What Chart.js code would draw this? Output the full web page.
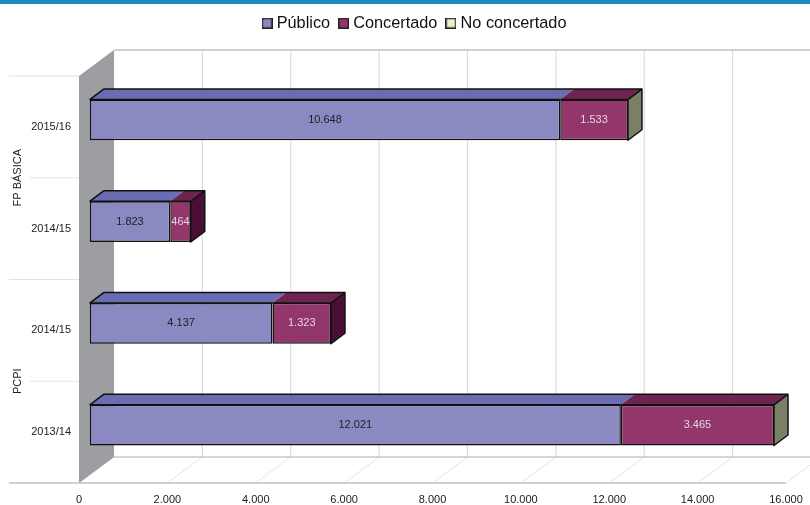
<!DOCTYPE html>
<html lang="es">
<head>
<meta charset="utf-8">
<title>Alumnado FP Básica y PCPI</title>
<script src="https://cdn.jsdelivr.net/npm/chart.js@4"></script>
<style>
html,body{margin:0;padding:0;background:#fff;overflow:hidden}
#band{position:absolute;left:0;top:0;width:810px;height:4px;background:#1e8dbd;z-index:2}
canvas{position:absolute;left:0;top:0}
</style>
</head>
<body>
<div id="band"></div>
<canvas id="c" width="810" height="505"></canvas>
<script>
const categories = ['2015/16', '2014/15', '2014/15', '2013/14'];
const groupNames = ['FP BÁSICA', 'PCPI'];
const groupFirst = [0, 2];
const groupLast = [1, 3];
const publico = [10648, 1823, 4137, 12021];
const concertado = [1533, 464, 1323, 3465];
const noConcertado = [0, null, null, 0];
const xTicks = [0, 2000, 4000, 6000, 8000, 10000, 12000, 14000, 16000];

const FONT = '"Liberation Sans", Arial, sans-serif';
const fmt = v => String(v).replace(/\B(?=(\d{3})+$)/g, '.');

// 3D projection of the reference chart (pixels)
const WALL = {dx: 35, dy: -26};
const BAR_SHIFT = {dx: 10.7, dy: -7};
const BAR_DEPTH = {dx: 14, dy: -10.5};
const TOP_Y = 50;

const shade = {
  'Público': {top: '#6a6db2', side: '#4f5190', label: '#222222'},
  'Concertado': {top: '#6f2350', side: '#4a0f35', label: '#e4d6e0'},
  'No concertado': {top: '#a3a58a', side: '#7a8068', label: '#222222'}
};

function swatch(color) {
  const s = document.createElement('canvas');
  s.width = 11; s.height = 11;
  const g = s.getContext('2d');
  g.fillStyle = color; g.fillRect(0, 0, 11, 11);
  g.strokeStyle = '#222'; g.lineWidth = 1.4; g.strokeRect(.7, .7, 9.6, 9.6);
  return s;
}

function poly(ctx, pts, fill, stroke, lw) {
  ctx.beginPath();
  pts.forEach((p, i) => i ? ctx.lineTo(p[0], p[1]) : ctx.moveTo(p[0], p[1]));
  ctx.closePath();
  if (fill) { ctx.fillStyle = fill; ctx.fill(); }
  if (stroke) { ctx.strokeStyle = stroke; ctx.lineWidth = lw; ctx.lineJoin = 'round'; ctx.stroke(); }
}
function seg(ctx, x1, y1, x2, y2, color, lw) {
  ctx.beginPath(); ctx.moveTo(x1, y1); ctx.lineTo(x2, y2);
  ctx.strokeStyle = color; ctx.lineWidth = lw; ctx.stroke();
}

const scene3d = {
  id: 'scene3d',
  afterLayout(chart) {
    chart.legend.left = 22;
    chart.legend.right = 810;
  },
  beforeDatasetsDraw(chart) {
    const {ctx} = chart, x = chart.scales.x, y = chart.scales.y;
    const bottom = y.bottom, top = y.top, left = x.left;
    const backBottom = bottom + WALL.dy;
    ctx.save();
    // rear grid
    xTicks.forEach(v => {
      const px = x.getPixelForValue(v);
      if (v > 0) seg(ctx, px + WALL.dx, TOP_Y, px + WALL.dx, backBottom, '#d9dee4', 1.2);
      seg(ctx, px, bottom, px + WALL.dx, backBottom, '#e2e4e9', 1);
    });
    seg(ctx, left + WALL.dx, TOP_Y, 810, TOP_Y, '#bfc3cb', 1.5);
    seg(ctx, left + WALL.dx, backBottom, 810, backBottom, '#c6c9d2', 1.3);
    // side wall
    poly(ctx, [[left, top], [left + WALL.dx, TOP_Y], [left + WALL.dx, backBottom], [left, bottom]], '#9d9ea2');
    // front floor edge + category separators
    seg(ctx, 9, bottom, x.right, bottom, '#bcc0c9', 1.5);
    const edges = categories.map((c, i) => y.getPixelForValue(i) - (y.getPixelForValue(1) - y.getPixelForValue(0)) / 2);
    edges.forEach((e, i) => seg(ctx, i % 2 ? 30 : 9, e, left, e, '#dfe2e6', 1.2));
    // group labels
    ctx.fillStyle = '#222';
    ctx.font = '11px ' + FONT;
    ctx.textAlign = 'center'; ctx.textBaseline = 'middle';
    groupNames.forEach((g, i) => {
      const cy = (y.getPixelForValue(groupFirst[i]) + y.getPixelForValue(groupLast[i])) / 2;
      ctx.save(); ctx.translate(17.5, cy); ctx.rotate(-Math.PI / 2); ctx.fillText(g, 0, 0); ctx.restore();
    });
    ctx.restore();
    // bars are drawn by the library, slid forward on the depth axis
    ctx.save();
    ctx.translate(BAR_SHIFT.dx, BAR_SHIFT.dy);
  },
  afterDatasetsDraw(chart) {
    const {ctx} = chart;
    const d = BAR_DEPTH;
    const n = categories.length;
    for (let i = 0; i < n; i++) {
      let last = null;
      chart.data.datasets.forEach((ds, k) => {
        if (ds.data[i] === null) return;
        const el = chart.getDatasetMeta(k).data[i];
        const t = el.y - el.height / 2;
        const c = shade[ds.label];
        if (ds.data[i] > 0) {
          poly(ctx, [[el.base, t], [el.base + d.dx, t + d.dy], [el.x + d.dx, t + d.dy], [el.x, t]], c.top);
        }
        last = {el, c};
      });
      chart.data.datasets.forEach((ds, k) => {
        if (!ds.data[i]) return;
        const el = chart.getDatasetMeta(k).data[i];
        const t = el.y - el.height / 2;
        seg(ctx, el.base, t, el.x, t, '#111', 1.5);
      });
      const first = chart.getDatasetMeta(0).data[i];
      const t = last.el.y - last.el.height / 2, b = t + last.el.height, R = last.el.x;
      poly(ctx, [[R, t], [R + d.dx, t + d.dy], [R + d.dx, b + d.dy], [R, b]], last.c.side, '#111', 1.5);
      ctx.beginPath();
      ctx.moveTo(first.base, t); ctx.lineTo(first.base + d.dx, t + d.dy); ctx.lineTo(R + d.dx, t + d.dy);
      ctx.strokeStyle = '#111'; ctx.lineWidth = 1.5; ctx.stroke();
      // value labels
      chart.data.datasets.forEach((ds, k) => {
        if (!ds.data[i]) return;
        const el = chart.getDatasetMeta(k).data[i];
        ctx.fillStyle = shade[ds.label].label;
        ctx.font = '11px ' + FONT;
        ctx.textAlign = 'center'; ctx.textBaseline = 'middle';
        ctx.fillText(fmt(ds.data[i]), (el.base + el.x) / 2, el.y);
      });
    }
    ctx.restore();
  }
};

const base = {borderColor: '#111', borderWidth: 1.5, borderSkipped: false, barPercentage: 0.8, categoryPercentage: 0.5};
new Chart(document.getElementById('c'), {
  type: 'bar',
  data: {
    labels: categories,
    datasets: [
      {label: 'Público', data: publico, backgroundColor: '#8b89c2', ...base},
      {label: 'Concertado', data: concertado, backgroundColor: '#93366c', ...base},
      {label: 'No concertado', data: noConcertado, backgroundColor: '#f0eecb', ...base}
    ]
  },
  options: {
    indexAxis: 'y',
    responsive: false,
    animation: false,
    layout: {padding: {left: 0, right: 24, top: 3, bottom: 0}},
    plugins: {
      tooltip: {enabled: false},
      legend: {
        position: 'top',
        labels: {
          usePointStyle: true, boxWidth: 3, boxHeight: 3, padding: 12,
          color: '#111', font: {family: FONT, size: 16.3},
          generateLabels(chart) {
            return Chart.defaults.plugins.legend.labels.generateLabels(chart).map((it, i) => {
              it.pointStyle = swatch(chart.data.datasets[i].backgroundColor);
              return it;
            });
          }
        }
      }
    },
    scales: {
      x: {
        stacked: true, min: 0, max: 16000,
        afterBuildTicks(s) { s.ticks = xTicks.map(v => ({value: v})); },
        afterFit(s) { s.height = 22; s.paddingRight = 0; s.paddingLeft = 0; },
        grid: {display: false, drawTicks: false}, border: {display: false},
        ticks: {autoSkip: false, maxRotation: 0, padding: 10, color: '#222', font: {family: FONT, size: 11}, callback: v => fmt(v)}
      },
      y: {
        stacked: true,
        afterFit(s) { s.width = 79; },
        grid: {display: false, drawTicks: false}, border: {display: false},
        ticks: {autoSkip: false, padding: 8, color: '#222', font: {family: FONT, size: 11}}
      }
    }
  },
  plugins: [scene3d, {
    id: 'legendHeight',
    beforeLayout(chart) {
      const lg = chart.legend;
      if (!lg.__fitWrapped) {
        const fit = lg.fit;
        lg.fit = function () { fit.call(this); this.height = 73; };
        lg.__fitWrapped = true;
      }
    }
  }]
});
</script>
</body>
</html>
